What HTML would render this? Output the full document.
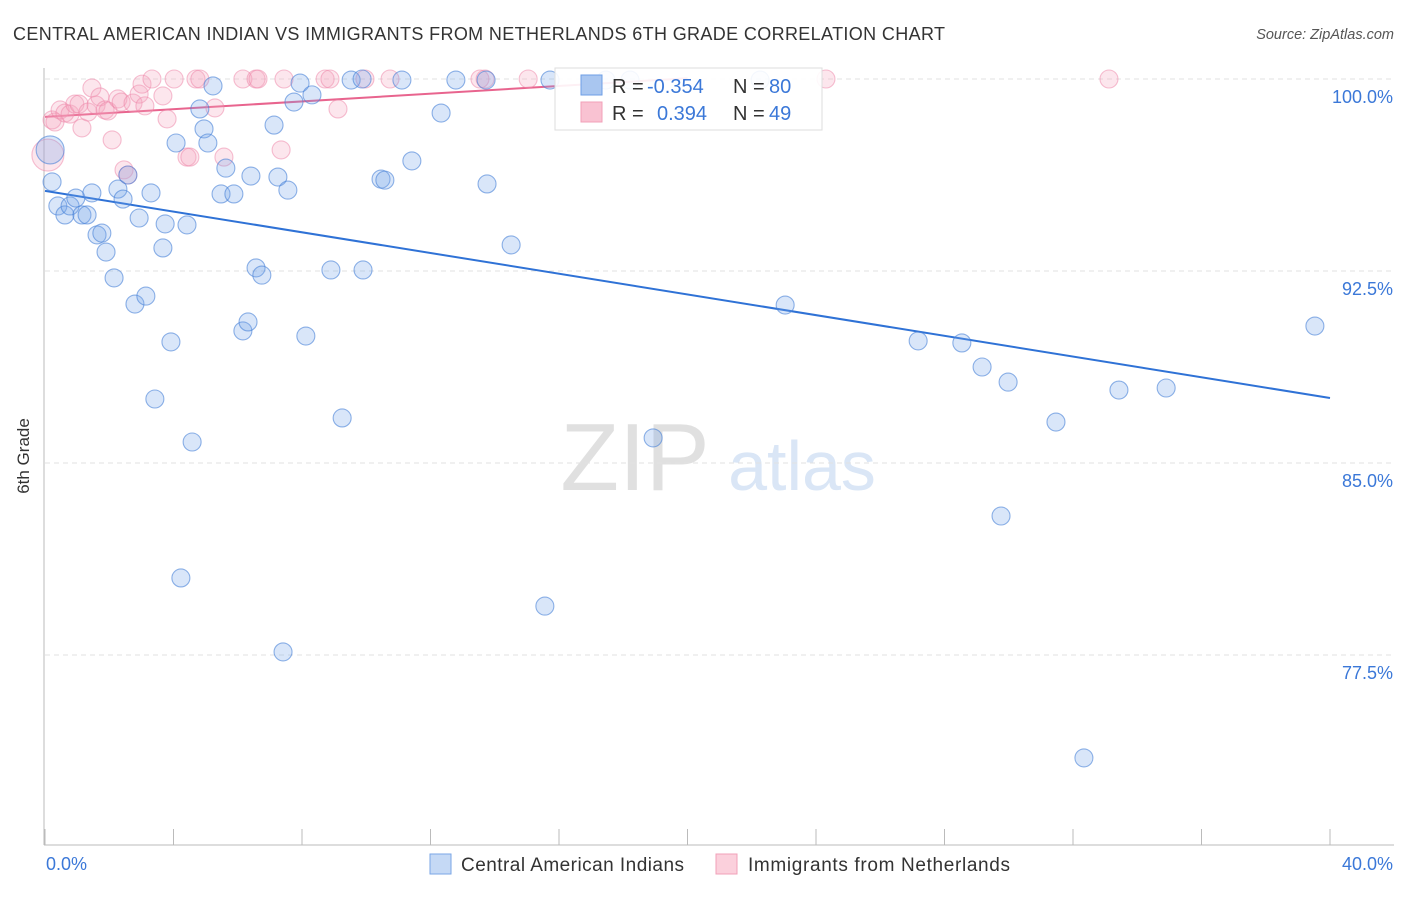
<!DOCTYPE html>
<html><head><meta charset="utf-8"><style>
body{margin:0;background:#fff;font-family:"Liberation Sans",sans-serif;}
svg text{font-family:"Liberation Sans",sans-serif;}
</style></head><body>
<svg id="chart" width="1406" height="892" xmlns="http://www.w3.org/2000/svg">
<text x="13" y="40" font-size="18" fill="#333" textLength="932">CENTRAL AMERICAN INDIAN VS IMMIGRANTS FROM NETHERLANDS 6TH GRADE CORRELATION CHART</text>
<text x="1394" y="39" font-size="14.5" fill="#555" font-style="italic" text-anchor="end">Source: ZipAtlas.com</text>
<text x="29" y="456" font-size="17" fill="#333" text-anchor="middle" transform="rotate(-90 29 456)">6th Grade</text>
<g><text x="635" y="490" font-size="96" fill="#e0e0e0" text-anchor="middle" font-family="Liberation Serif">ZIP</text><text x="802" y="490" font-size="70" fill="#dae6f6" text-anchor="middle">atlas</text></g>
<g id="grid"></g><g id="axes"></g><g id="lines"></g><g id="pts"></g>
<g>
<rect x="555" y="68" width="267" height="62" fill="#fff" fill-opacity="0.9" stroke="#ddd"/>
<rect x="581" y="75" width="21" height="20" fill="#a9c6f0" stroke="#6d9ee6"/>
<text x="612" y="93" font-size="20" fill="#333">R = </text><text x="647" y="93" font-size="20" fill="#3b78d8">-0.354</text>
<text x="733" y="93" font-size="20" fill="#333">N = </text><text x="769" y="93" font-size="20" fill="#3b78d8">80</text>
<rect x="581" y="102" width="21" height="20" fill="#f9c2d2" stroke="#f2a0b8"/>
<text x="612" y="120" font-size="20" fill="#333">R = </text><text x="657" y="120" font-size="20" fill="#3b78d8">0.394</text>
<text x="733" y="120" font-size="20" fill="#333">N = </text><text x="769" y="120" font-size="20" fill="#3b78d8">49</text>
</g>
<g>
<rect x="430" y="854" width="21" height="20" fill="#c5d9f5" stroke="#7aa6e6"/>
<text x="461" y="871" font-size="19" fill="#333" textLength="223">Central American Indians</text>
<rect x="716" y="854" width="21" height="20" fill="#fbd0dc" stroke="#f2a0b8"/>
<text x="748" y="871" font-size="19" fill="#333" textLength="262">Immigrants from Netherlands</text>
</g>
</svg>
<script>
const yTicks=[100,92.5,85,77.5];
const yTickLabels=["100.0%","92.5%","85.0%","77.5%"];
const xEnds=[0,40];
const xEndLabels=["0.0%","40.0%"];
const blueX=[0.16,0.22,0.40,0.62,0.78,0.96,1.15,1.31,1.46,1.62,1.77,1.90,2.15,2.27,2.43,2.58,2.80,2.93,3.14,3.30,3.42,3.74,3.67,3.92,4.08,4.23,4.42,4.58,4.82,4.95,5.07,5.23,5.48,5.63,5.88,6.16,6.32,6.41,6.57,6.75,7.13,7.25,7.41,7.56,7.75,7.94,8.12,8.31,8.90,9.25,9.53,9.90,9.87,10.46,10.58,11.11,11.42,12.33,12.79,13.73,13.76,14.51,15.56,15.72,17.46,18.21,18.93,22.26,23.04,27.18,28.54,29.17,29.98,29.76,31.47,32.34,33.43,34.90,39.53];
const blueY=[97.23,95.98,95.04,94.69,95.04,95.35,94.69,94.69,95.55,93.91,93.98,93.24,92.23,95.70,95.31,96.25,91.21,94.57,91.52,95.55,87.50,94.34,93.40,89.73,97.50,80.51,94.30,85.82,98.83,98.05,97.50,99.73,95.51,96.52,95.51,90.16,90.51,96.21,92.62,92.34,98.20,96.17,77.62,95.66,99.10,99.84,89.96,99.38,92.54,86.76,99.96,92.54,100,96.09,96.05,99.96,96.80,98.67,99.96,99.96,95.90,93.52,79.41,99.96,99.96,99.96,85.98,99.96,91.17,89.77,89.69,88.75,88.16,82.93,86.60,73.48,87.85,87.93,90.35];
const pinkX=[0.09,0.22,0.31,0.47,0.62,0.78,0.93,1.06,1.15,1.34,1.46,1.59,1.71,1.87,1.96,2.09,2.27,2.37,2.46,2.58,2.74,2.93,3.02,3.11,3.33,3.67,3.80,4.02,4.42,4.51,4.70,4.82,5.29,5.57,6.16,6.57,6.63,7.35,7.44,8.72,8.87,9.12,9.96,10.74,13.54,13.70,15.04,24.31,33.12];
const pinkY=[97.03,98.40,98.32,98.79,98.67,98.63,99.02,99.02,98.09,98.71,99.65,98.98,99.30,98.79,98.75,97.62,99.22,99.10,96.45,96.25,99.06,99.41,99.80,98.95,100,99.34,98.44,100,96.95,96.95,100,100,98.87,96.95,100,100,100,97.23,100,100,100,98.83,100,100,100,100,100,100,100];
const blueTrend=[95.63,87.54];
const pinkTrendX=[0,20];
const pinkTrendY=[98.52,100.03];
const NS="http://www.w3.org/2000/svg";
const X=v=>45+v*(1285/40);
const Y=v=>79+(100-v)*25.6;
function mk(t,a,p){const e=document.createElementNS(NS,t);for(const k in a)e.setAttribute(k,a[k]);document.getElementById(p).appendChild(e);return e;}
yTicks.forEach((t,i)=>{
 const l=mk('line',{x1:45,x2:1394,y1:Y(t),y2:Y(t),stroke:'#e2e2e2','stroke-dasharray':'5,4'},'grid');
 
 
 const tx=mk('text',{x:1393,y:Y(t)+24,'font-size':18,fill:'#3b78d8','text-anchor':'end'},'grid');tx.textContent=yTickLabels[i];
 
 
});
const ax=mk('line',{x1:44,x2:44,y1:68,y2:845,stroke:'#bbb'},'axes');


const bx=mk('line',{x1:44,x2:1394,y1:845,y2:845,stroke:'#bbb'},'axes');


for(let v=0;v<=40;v+=4){const t=mk('line',{x1:X(v),x2:X(v),y1:829,y2:845,stroke:'#bbb'},'axes');
 
 }
xEnds.forEach((v,i)=>{const t=mk('text',{x:i?X(v)+63:X(v)+1,y:870,'font-size':18,fill:'#3b78d8','text-anchor':i?'end':'start'},'axes');t.textContent=xEndLabels[i];
 
 });
function pts(xs,ys,fill,stroke,name){xs.forEach((x,i)=>{const r=(i===0)?(name==='blue-point'?14:16):9;
 const c=mk('circle',{cx:X(x),cy:Y(ys[i]),r:r,fill:fill,stroke:stroke,'stroke-width':1.1},'pts');
 
 });}
pts(pinkX,pinkY,'rgba(246,165,190,0.28)','rgba(238,130,165,0.5)','pink-point');
pts(blueX,blueY,'rgba(120,165,232,0.28)','rgba(70,128,215,0.6)','blue-point');
const bl=mk('line',{x1:X(0),y1:Y(blueTrend[0]),x2:X(40),y2:Y(blueTrend[1]),stroke:'#2f72d6','stroke-width':2},'lines');


const pl=mk('line',{x1:X(pinkTrendX[0]),y1:Y(pinkTrendY[0]),x2:X(pinkTrendX[1]),y2:Y(pinkTrendY[1]),stroke:'#e8648e','stroke-width':2},'lines');


</script>
</body></html>
